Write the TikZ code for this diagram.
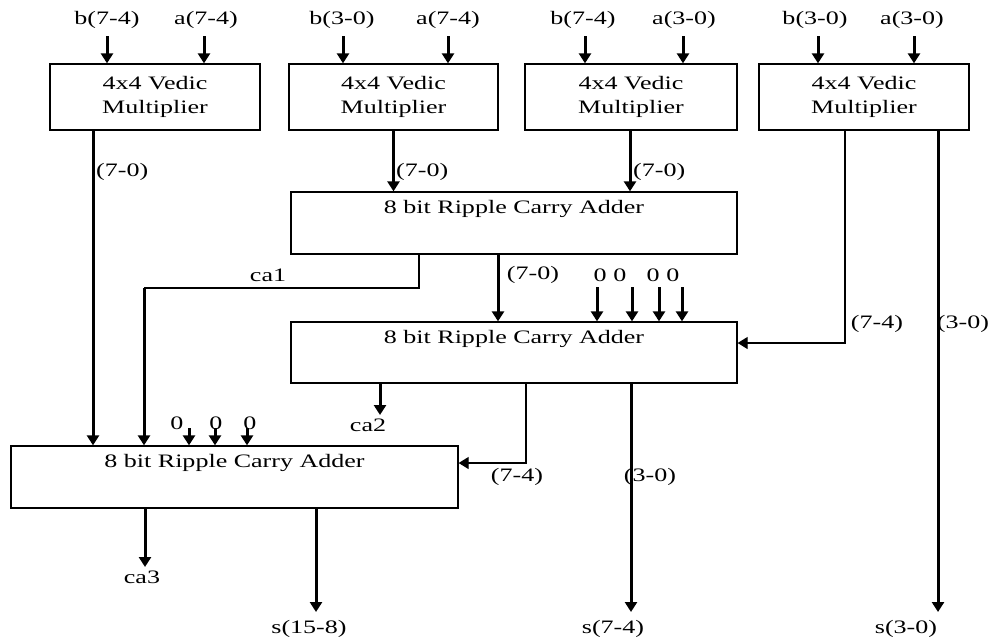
\documentclass[tikz,border=0pt]{standalone}
\usepackage{fontspec}
\setmainfont{Liberation Serif}[FakeStretch=1.37]
\usetikzlibrary{arrows.meta}
\begin{document}
\begin{tikzpicture}[x=1pt,y=-1pt,
  box/.style={draw,line width=1.3pt,inner sep=0pt},
  txt/.style={font=\fontsize{19}{24}\selectfont,inner sep=0pt},
  bus/.style={line width=3pt,-{Triangle[width=12pt,length=10pt]}},
  wire/.style={line width=1.3pt},
  wirea/.style={line width=1.3pt,-{Triangle[width=12pt,length=10pt]}}]
\useasboundingbox[fill=white] (0,0) rectangle (992,641);

% multipliers
\node[box,txt,align=center,minimum width=210pt,minimum height=66pt] (M1) at (155,97) {4x4 Vedic\\Multiplier};
\node[box,txt,align=center,minimum width=209pt,minimum height=66pt] (M2) at (393.5,97) {4x4 Vedic\\Multiplier};
\node[box,txt,align=center,minimum width=212pt,minimum height=66pt] (M3) at (631,97) {4x4 Vedic\\Multiplier};
\node[box,txt,align=center,minimum width=210pt,minimum height=66pt] (M4) at (864,97) {4x4 Vedic\\Multiplier};

% adders
\node[box,minimum width=446pt,minimum height=62pt] (A1) at (514,223) {};
\node[txt] (A1t) at (514,209) {8 bit Ripple Carry Adder};
\node[box,minimum width=446pt,minimum height=61pt] (A2) at (514,352.5) {};
\node[txt] (A2t) at (514,339) {8 bit Ripple Carry Adder};
\node[box,minimum width=447pt,minimum height=62pt] (A3) at (234.5,477) {};
\node[txt] (A3t) at (234.5,463) {8 bit Ripple Carry Adder};

% input labels
\node[txt] (b1) at (107,20) {b(7-4)};
\node[txt] (a1) at (206,20) {a(7-4)};
\node[txt] (b2) at (342,20) {b(3-0)};
\node[txt] (a2) at (448,20) {a(7-4)};
\node[txt] (b3) at (583,20) {b(7-4)};
\node[txt] (a3) at (684,20) {a(3-0)};
\node[txt] (b4) at (815,20) {b(3-0)};
\node[txt] (a4) at (912,20) {a(3-0)};

\coordinate (ib1) at (107,36);
\coordinate (ia1) at (204,36);
\coordinate (ib2) at (343,36);
\coordinate (ia2) at (448,36);
\coordinate (ib3) at (585,36);
\coordinate (ia3) at (683,36);
\coordinate (ib4) at (818,36);
\coordinate (ia4) at (914,36);
\foreach \c/\m in {ib1/M1,ia1/M1,ib2/M2,ia2/M2,ib3/M3,ia3/M3,ib4/M4,ia4/M4}
  \draw[bus] (\c) -- (\c |- \m.north);

% multiplier outputs
\draw[bus] ([xshift=-62pt]M1.south) -- ([xshift=-62pt]M1.south |- A3.north);
\node[txt,anchor=west] (l1) at (96,172) {(7-0)};
\draw[bus] (M2.south) -- (M2.south |- A1.north);
\node[txt,anchor=west] (l2) at (396,172) {(7-0)};
\draw[bus] ([xshift=-1pt]M3.south) -- ([xshift=-1pt]M3.south |- A1.north);
\node[txt,anchor=west] (l3) at (633,172) {(7-0)};
\draw[wirea] ([xshift=-19pt]M4.south) |- ([yshift=9.5pt]A2.east);
\node[txt] (l4) at (877,324) {(7-4)};
\coordinate (e30) at (938,612);
\draw[bus] (e30 |- M4.south) -- (e30);
\node[txt] (l5) at (963,324) {(3-0)};
\node[txt] (s30) at (906,629) {s(3-0)};

% adder 1 outputs
\draw[bus] ([xshift=-16pt]A1.south) -- ([xshift=-16pt]A1.south |- A2.north);
\node[txt] (l6) at (533,275) {(7-0)};
\coordinate (k1) at (144,288);
\draw[wire] ([xshift=-95pt]A1.south) |- (k1);
\draw[bus] (k1) -- (k1 |- A3.north);
\node[txt] (ca1) at (268,275) {ca1};

% zeros into adder 2
\foreach \x [count=\i] in {597,632,659,682}
  \coordinate (z\i) at (\x,287);
\foreach \i in {1,...,4}
  \draw[bus] (z\i) -- (z\i |- A2.north);
\node[txt] (zl1) at (610,275) {0 0};
\node[txt] (zl2) at (663,275) {0 0};

% adder 2 outputs
\coordinate (eca2) at (380,415);
\draw[bus] (eca2 |- A2.south) -- (eca2);
\node[txt] (ca2) at (368,425) {ca2};
\draw[wirea] ([xshift=12pt]A2.south) |- ([yshift=14pt]A3.east);
\node[txt] (l7) at (517,477) {(7-4)};
\coordinate (e74) at (631,612);
\draw[bus] (e74 |- A2.south) -- (e74);
\node[txt] (l8) at (650,477) {(3-0)};
\node[txt] (s74) at (613,629) {s(7-4)};

% zeros into adder 3
\foreach \x [count=\i] in {189,215,247}
  \coordinate (y\i) at (\x,428);
\foreach \i in {1,...,3}
  \draw[bus] (y\i) -- (y\i |- A3.north);
\node[txt] (yl1) at (177,423) {0};
\node[txt] (yl2) at (216,423) {0};
\node[txt] (yl3) at (250,423) {0};

% adder 3 outputs
\coordinate (eca3) at (145,567);
\draw[bus] (eca3 |- A3.south) -- (eca3);
\node[txt] (ca3) at (142,577) {ca3};
\coordinate (e158) at (316,612);
\draw[bus] (e158 |- A3.south) -- (e158);
\node[txt] (s158) at (309,629) {s(15-8)};
\end{tikzpicture}
\end{document}
